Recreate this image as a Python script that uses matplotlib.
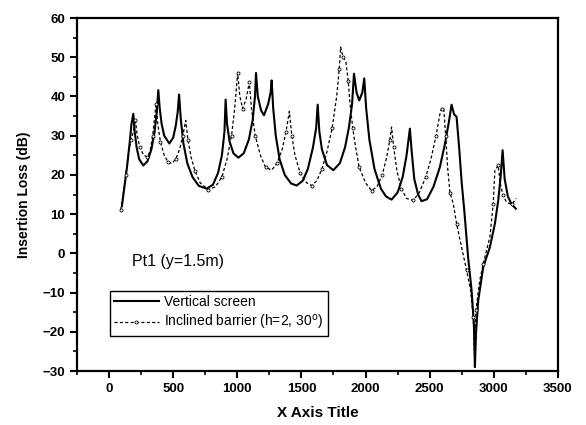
import matplotlib
matplotlib.use("Agg")
import matplotlib.pyplot as plt
from matplotlib.ticker import MultipleLocator

plt.rcParams['font.family'] = ['Liberation Sans', 'DejaVu Sans']

vs_x = [100, 120, 140, 160, 175, 189, 200, 215, 235, 267, 300, 330, 355, 372, 384, 395, 410, 430, 470,
        500, 520, 535, 546, 560, 580, 610, 650, 700, 761, 810, 850, 880, 900, 909, 920, 940, 970, 1008,
        1050, 1090, 1120, 1138, 1146, 1160, 1185, 1208, 1240, 1260, 1268, 1280, 1300, 1330, 1370, 1420,
        1463, 1510, 1550, 1590, 1615, 1627, 1640, 1660, 1700, 1749, 1800, 1840, 1870, 1895, 1910, 1930,
        1951, 1975, 1990, 2005, 2030, 2070, 2120, 2160, 2203, 2250, 2290, 2320, 2346, 2360, 2380, 2410,
        2437, 2480, 2530, 2580, 2620, 2650, 2671, 2690, 2710, 2730, 2750, 2770, 2800, 2827, 2845, 2853,
        2862, 2879, 2918, 2970, 3009, 3035, 3055, 3069, 3085, 3110, 3140, 3172]
vs_y = [12, 17, 22, 28, 33, 35.6, 31, 27, 24, 22.4, 23.5, 26.5, 31, 36, 41.6, 37, 33, 30, 28,
        29.5, 32.5, 36, 40.5, 34, 28, 23, 19.5, 17.2, 16.5, 17.5, 20.5, 25, 31, 39.2, 33, 28.5, 25.5, 24.4,
        25.5, 29, 34, 40, 46, 40, 36.5, 35.2, 38, 41, 44.1, 37, 30, 24, 20, 17.8,
        17.3, 18.5, 21.5, 27, 32, 37.9, 31, 26.5, 22.5, 21.2, 23, 27, 32, 38, 45.8, 41,
        39, 41, 44.6, 37, 29, 21.5, 16.5, 14.5, 13.7, 15.5, 19.5, 25, 31.8, 26, 19, 15,
        13.3, 13.8, 17, 22, 28, 33.5, 37.9, 35.5, 34.8, 27, 18, 11, -1, -9.4, -18, -29,
        -20, -12, -3.5, 1.6, 7.6, 13.5, 20, 26.3, 19, 14.5, 12.5, 11.4]

ib_x = [90, 110, 130, 150, 170, 190, 205, 220, 240, 270, 299, 320, 340, 355, 366, 380, 400, 430, 460,
        489, 520, 550, 575, 598, 615, 640, 670, 710, 774, 830, 880, 920, 955, 980, 1003, 1020, 1042, 1070,
        1094, 1110, 1140, 1180, 1220, 1268, 1310, 1350, 1380, 1406, 1425, 1450, 1490, 1540, 1580, 1620,
        1660, 1700, 1740, 1775, 1795, 1806, 1825, 1847, 1865, 1879, 1900, 1918, 1950, 2000, 2047, 2090,
        2130, 2165, 2190, 2203, 2220, 2245, 2280, 2320, 2372, 2420, 2470, 2510, 2550, 2580, 2593, 2610,
        2625, 2640, 2658, 2684, 2710, 2749, 2788, 2819, 2840, 2851, 2861, 2890, 2918, 2970, 2996, 3009,
        3035, 3050, 3070, 3100, 3140, 3175]
ib_y = [11, 15, 20, 25, 29, 31, 34, 30, 27, 25, 24.6, 26, 30, 34.5, 38.2, 33, 28.5, 25, 23.3,
        22.9, 24, 26.5, 30, 33.9, 29, 24.5, 21, 18, 16.2, 17, 19.5, 24, 30, 37, 46, 40, 36.9, 39.5,
        43.7, 37, 30, 25, 22, 21.2, 23, 26.5, 31, 36.2, 30, 25, 20.5, 18, 17.3, 18.5,
        21.5, 26, 32, 40, 47, 52.6, 50, 48.8, 44, 38.2, 32, 28, 22, 18, 16, 17,
        20, 24.5, 29, 32.2, 27, 21, 16.5, 14, 13.5, 15.5, 19.5, 24, 30, 35.5, 36.9, 37,
        30, 22, 15.5, 12.7, 7.6, 1.6, -4.3, -9.4, -16.2, -27, -14.5, -7, -2.6, 4.2, 12.7, 21.2,
        22.4, 18, 15, 13, 12.5, 14]

series_labels = ["Vertical screen", "Inclined barrier (h=2, 30$^{\\rm o}$)"]

fig = plt.figure(figsize=(5.86, 4.25), dpi=100)
ax = fig.add_axes([0.1314, 0.127, 0.8206, 0.8306])

ax.plot(vs_x, vs_y, color='black', lw=1.5, label=series_labels[0])
ax.plot(ib_x, ib_y, color='black', lw=0.9, ls=(0, (2.5, 1.8)), marker='o', ms=2.2,
        mfc='white', mec='black', mew=0.6, markevery=2, label=series_labels[1])

ax.set_xlim(-250, 3500)
ax.set_ylim(-30, 60)
ax.xaxis.set_major_locator(MultipleLocator(500))
ax.xaxis.set_minor_locator(MultipleLocator(250))
ax.yaxis.set_major_locator(MultipleLocator(10))
ax.yaxis.set_minor_locator(MultipleLocator(5))
ax.tick_params(which='major', direction='out', length=5, width=1.5, labelsize=9.5)
ax.tick_params(which='minor', direction='out', length=3, width=1.2)
for lab in ax.get_xticklabels() + ax.get_yticklabels():
    lab.set_fontweight('bold')
for sp in ax.spines.values():
    sp.set_linewidth(1.6)

ax.set_xlabel("X Axis Title", fontsize=11, fontweight='bold', labelpad=8)
ax.set_ylabel("Insertion Loss (dB)", fontsize=10, fontweight='bold', labelpad=8)

ax.text(176, -2.2, "Pt1 (y=1.5m)", fontsize=11.5, va='center', ha='left')

leg = ax.legend(loc='lower left', bbox_to_anchor=(0.0686, 0.099), borderaxespad=0,
                fancybox=False, edgecolor='black', framealpha=1, fontsize=10,
                handlelength=3.2, borderpad=0.3, labelspacing=0.3, handletextpad=0.4)
leg.get_frame().set_linewidth(1.0)

fig.savefig("out.png", dpi=100)
